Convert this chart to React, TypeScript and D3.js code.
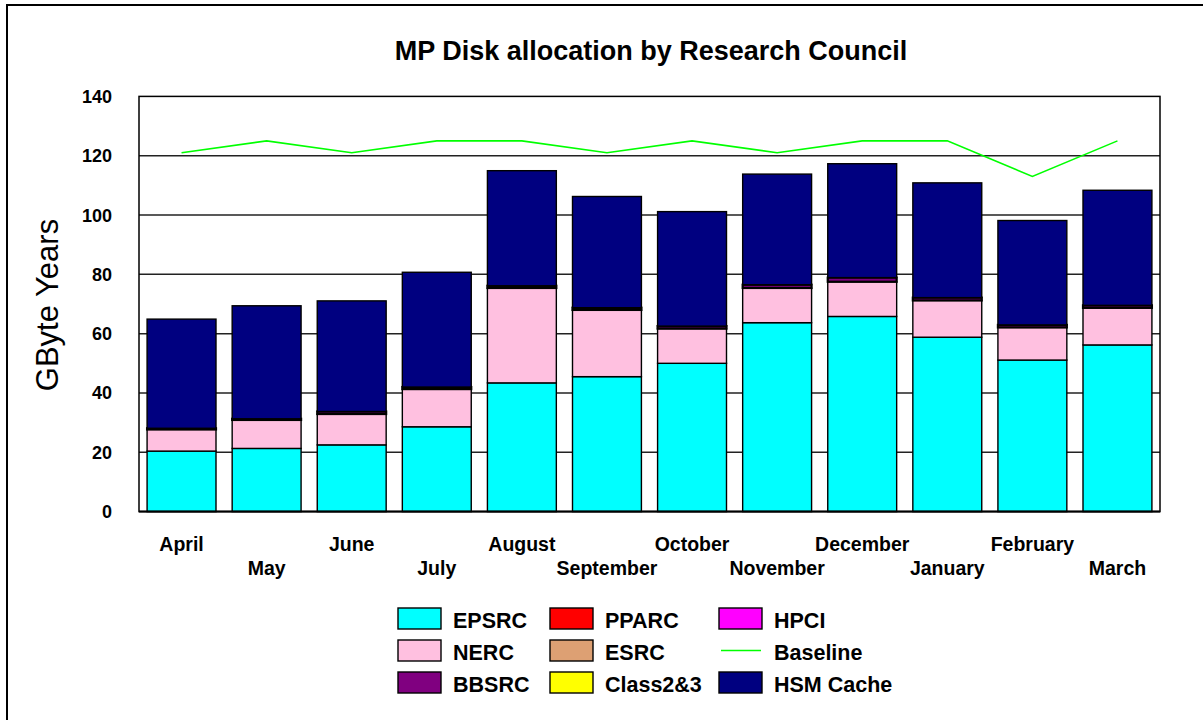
import React from "react";
import * as d3 from "d3";

const months = ["April", "May", "June", "July", "August", "September", "October", "November", "December", "January", "February", "March"];
const epsrc = [20.4, 21.3, 22.5, 28.6, 43.4, 45.5, 50.0, 63.7, 65.8, 58.8, 51.1, 56.2];
const nerc = [7.3, 9.6, 10.4, 12.7, 32.0, 22.5, 11.7, 11.7, 11.7, 12.4, 11.0, 12.5];
const bbsrc = [0.4, 0.4, 0.85, 0.7, 0.75, 0.75, 0.85, 1.1, 1.4, 0.95, 0.85, 0.85];
const pparc = [0, 0, 0, 0, 0, 0, 0, 0, 0, 0, 0, 0];
const esrc = [0, 0, 0, 0, 0, 0, 0, 0, 0, 0, 0, 0];
const class23 = [0, 0, 0, 0, 0, 0, 0, 0, 0, 0, 0, 0];
const hpci = [0, 0, 0, 0, 0, 0, 0, 0, 0, 0, 0, 0];
const hsmCache = [36.8, 38.1, 37.3, 38.7, 38.8, 37.5, 38.6, 37.3, 38.4, 38.7, 35.2, 38.8];
const baseline = [121, 125, 121, 125, 125, 121, 125, 121, 125, 125, 113, 125];
const yTicks = [0, 20, 40, 60, 80, 100, 120, 140];

const seriesKeys = ["EPSRC", "NERC", "BBSRC", "PPARC", "ESRC", "Class2&3", "HPCI", "HSM Cache"];
const seriesValues: Record<string, number[]> = {
  EPSRC: epsrc,
  NERC: nerc,
  BBSRC: bbsrc,
  PPARC: pparc,
  ESRC: esrc,
  "Class2&3": class23,
  HPCI: hpci,
  "HSM Cache": hsmCache,
};
const colors: Record<string, string> = {
  EPSRC: "#00FFFF",
  NERC: "#FFC0E0",
  BBSRC: "#800080",
  PPARC: "#FF0000",
  ESRC: "#DDA073",
  "Class2&3": "#FFFF00",
  HPCI: "#FF00FF",
  "HSM Cache": "#000080",
};

const legendItems = [
  ["EPSRC", "PPARC", "HPCI"],
  ["NERC", "ESRC", "Baseline"],
  ["BBSRC", "Class2&3", "HSM Cache"],
];

const FONT = "'Liberation Sans', Arial, sans-serif";

export default function App() {
  const W = 1203, H = 720;
  const left = 139, right = 1160, top = 96.4, bottom = 511.6;

  const table = months.map((m, i) => {
    const row: Record<string, number | string> = { month: m };
    seriesKeys.forEach((k) => (row[k] = seriesValues[k][i]));
    return row;
  });
  const stacked = d3.stack<any>().keys(seriesKeys)(table as any);

  const x = d3.scaleBand<string>().domain(months).range([left, right]).paddingInner(0.19).paddingOuter(0.095);
  const y = d3.scaleLinear().domain([0, 140]).range([bottom, top]);

  const line = d3
    .line<number>()
    .x((_, i) => (x(months[i]) as number) + x.bandwidth() / 2)
    .y((d) => y(d));

  const legendColX = [398, 550, 719];
  const legendRowY = [608, 640, 672];

  return (
    <svg width={W} height={H} style={{ position: "absolute", left: 0, top: 0, background: "#fff" }} fontFamily={FONT}>
      <rect x={0} y={0} width={W} height={H} fill="#fff" />
      <rect x={7} y={5} width={1400} height={900} fill="none" stroke="#000" strokeWidth={2} />
      <text x={651} y={60} textAnchor="middle" fontWeight="bold" fontSize={27}>
        MP Disk allocation by Research Council
      </text>

      {/* gridlines */}
      {yTicks.slice(1, -1).map((t) => (
        <line key={t} x1={left} x2={right} y1={y(t)} y2={y(t)} stroke="#222" strokeWidth={1.5} />
      ))}

      {/* bars */}
      {stacked.map((s) => (
        <g key={s.key}>
          {s.map((d, i) =>
            d[1] - d[0] > 0 ? (
              <rect
                key={i}
                x={x(months[i])}
                y={y(d[1])}
                width={x.bandwidth()}
                height={y(d[0]) - y(d[1])}
                fill={colors[s.key]}
                stroke="#000"
                strokeWidth={s.key === "BBSRC" ? 2.2 : 1.4}
              />
            ) : null
          )}
        </g>
      ))}

      {/* plot border */}
      <rect x={left} y={top} width={right - left} height={bottom - top} fill="none" stroke="#000" strokeWidth={1.5} />
      <line x1={left} x2={right} y1={bottom} y2={bottom} stroke="#000" strokeWidth={2} />

      {/* baseline */}
      <path d={line(baseline) || ""} fill="none" stroke="#00FF00" strokeWidth={1.6} />

      {/* y ticks */}
      {yTicks.map((t) => (
        <text key={t} x={112} y={y(t)} dy="0.36em" textAnchor="end" fontWeight="bold" fontSize={18}>
          {t}
        </text>
      ))}
      <text transform={`translate(58,305) rotate(-90)`} textAnchor="middle" fontSize={31}>
        GByte Years
      </text>

      {/* x labels */}
      {months.map((m, i) => (
        <text
          key={m}
          x={(x(m) as number) + x.bandwidth() / 2}
          y={i % 2 === 0 ? 551 : 575}
          textAnchor="middle"
          fontWeight="bold"
          fontSize={19.5}
        >
          {m}
        </text>
      ))}

      {/* legend */}
      {legendItems.map((row, ri) =>
        row.map((name, ci) => {
          const lx = legendColX[ci];
          const ly = legendRowY[ri];
          return (
            <g key={name}>
              {name === "Baseline" ? (
                <line x1={lx + 2} x2={lx + 42} y1={ly + 10.5} y2={ly + 10.5} stroke="#00FF00" strokeWidth={1.6} />
              ) : (
                <rect x={lx} y={ly} width={43} height={21} fill={colors[name]} stroke="#000" strokeWidth={1.4} />
              )}
              <text x={lx + 55} y={ly + 20} fontWeight="bold" fontSize={21.5}>
                {name}
              </text>
            </g>
          );
        })
      )}
    </svg>
  );
}
